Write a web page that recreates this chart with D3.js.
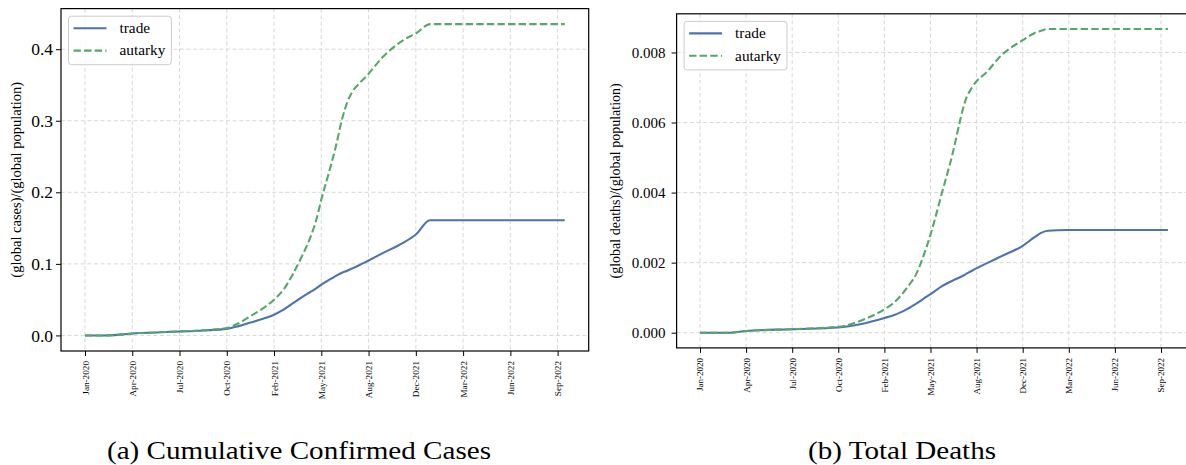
<!DOCTYPE html>
<html>
<head>
<meta charset="utf-8">
<script src="https://cdn.jsdelivr.net/npm/d3@7"></script>
<style>
  body { margin: 0; background: #fff; }
  svg { display: block; }
  text { font-family: "Liberation Serif", "Times New Roman", serif; fill: #000; }
</style>
</head>
<body>
<svg id="chart" width="1186" height="465"></svg>
<script>
// Days since the start of the simulation, with ticks every 100 days.
const tickDays = [0, 100, 200, 300, 400, 500, 600, 700, 800, 900, 1000];
const tickLabels = ["Jan-2020", "Apr-2020", "Jul-2020", "Oct-2020", "Feb-2021", "May-2021",
                    "Aug-2021", "Dec-2021", "Mar-2022", "Jun-2022", "Sep-2022"];
const seriesNames = ["trade", "autarky"];

// Cumulative confirmed cases per head of global population
const casesDays    = [0, 40, 60, 80, 100, 150, 200, 250, 300, 325, 350, 375, 400, 420, 440, 460, 475, 490, 500, 515, 530, 545, 555, 565, 580, 595, 630, 672, 700, 730, 800, 900, 1015];
const casesTrade   = [0, 0, 0.0005, 0.0015, 0.0028, 0.0042, 0.0055, 0.0070, 0.0092, 0.013, 0.018, 0.023, 0.029, 0.036, 0.045, 0.054, 0.060, 0.066, 0.071, 0.077, 0.083, 0.088, 0.0905, 0.0935, 0.098, 0.103, 0.115, 0.129, 0.141, 0.161, 0.161, 0.161, 0.161];
const casesAutarky = [0, 0, 0.0005, 0.0015, 0.0028, 0.0042, 0.0056, 0.0072, 0.0105, 0.017, 0.027, 0.037, 0.050, 0.064, 0.086, 0.112, 0.134, 0.163, 0.19, 0.225, 0.262, 0.305, 0.326, 0.340, 0.352, 0.362, 0.389, 0.412, 0.422, 0.435, 0.435, 0.435, 0.435];
const casesTicks   = [0, 0.1, 0.2, 0.3, 0.4];

// Total deaths per head of global population
const deathsDays    = [0, 40, 65, 100, 200, 300, 350, 400, 420, 435, 450, 470, 485, 500, 525, 550, 565, 575, 590, 625, 650, 700, 725, 740, 755, 795, 900, 1015];
const deathsTrade   = [0, 0, 0, 0.00005, 0.0001, 0.00015, 0.00025, 0.00042, 0.0005, 0.00058, 0.00068, 0.00084, 0.00097, 0.0011, 0.00133, 0.0015, 0.00159, 0.00166, 0.00177, 0.002, 0.00216, 0.00248, 0.00272, 0.00285, 0.00291, 0.00293, 0.00293, 0.00293];
const deathsAutarky = [0, 0, 0, 0.00005, 0.0001, 0.00017, 0.00035, 0.00067, 0.00085, 0.00105, 0.0013, 0.0017, 0.0022, 0.0028, 0.0040, 0.00522, 0.0061, 0.0066, 0.0070, 0.00748, 0.00787, 0.00835, 0.00855, 0.00862, 0.00867, 0.00867, 0.00867, 0.00867];
const deathsTicks   = [0, 0.002, 0.004, 0.006, 0.008];

const captions = ["(a) Cumulative Confirmed Cases", "(b) Total Deaths"];
const yTitles = ["(global cases)/(global population)", "(global deaths)/(global population)"];

const colors = { trade: "#4c72b0", autarky: "#55a868" };
const svg = d3.select("#chart");

function padded(values, frac) {
  const [lo, hi] = d3.extent(values);
  const p = (hi - lo) * frac;
  return [lo - p, hi + p];
}

function drawPanel(o) {
  const g = svg.append("g");
  const x = d3.scaleLinear().domain(padded(o.days, 0.05)).range([o.left, o.right]);
  const y = d3.scaleLinear().domain(padded(o.trade.concat(o.autarky), 0.05)).range([o.bottom, o.top]);

  // clip to the axes box
  const clipId = "clip" + o.id;
  g.append("clipPath").attr("id", clipId).append("rect")
    .attr("x", o.left).attr("y", o.top).attr("width", o.right - o.left).attr("height", o.bottom - o.top);

  // grid
  const grid = g.append("g").attr("clip-path", `url(#${clipId})`)
    .attr("stroke", "#d4d4d4").attr("stroke-width", 0.9).attr("stroke-dasharray", "4,2.6");
  grid.selectAll("line.v").data(tickDays).join("line")
    .attr("x1", d => x(d)).attr("x2", d => x(d)).attr("y1", o.top).attr("y2", o.bottom);
  grid.selectAll("line.h").data(o.yTicks).join("line")
    .attr("y1", d => y(d)).attr("y2", d => y(d)).attr("x1", o.left).attr("x2", o.right);

  // lines
  const rows = o.days.map((d, i) => ({ d, trade: o.trade[i], autarky: o.autarky[i] }));
  const lines = g.append("g").attr("clip-path", `url(#${clipId})`);
  seriesNames.forEach(name => {
    const line = d3.line().x(r => x(r.d)).y(r => y(r[name])).curve(d3.curveMonotoneX);
    lines.append("path").datum(rows)
      .attr("d", line)
      .attr("fill", "none")
      .attr("stroke", colors[name])
      .attr("stroke-width", 2.1)
      .attr("stroke-linejoin", "round")
      .attr("stroke-dasharray", name === "autarky" ? "7.4,3.2" : null);
  });

  // axes
  const xAxis = d3.axisBottom(x).tickValues(tickDays)
    .tickFormat((d, i) => tickLabels[i]).tickSize(5).tickPadding(5);
  const xg = g.append("g").attr("transform", `translate(0,${o.bottom})`).call(xAxis);
  xg.select(".domain").remove();
  xg.selectAll(".tick line").attr("stroke", "#000").attr("stroke-width", 1);
  xg.selectAll(".tick text")
    .attr("font-family", "Liberation Serif, serif")
    .attr("font-size", o.xFont)
    .attr("transform", "rotate(-90)")
    .attr("text-anchor", "end")
    .attr("x", -10).attr("y", 0).attr("dy", "0.33em");

  const yAxis = d3.axisLeft(y).tickValues(o.yTicks).tickFormat(d3.format(o.yFormat))
    .tickSize(5).tickPadding(o.yPad);
  const yg = g.append("g").attr("transform", `translate(${o.left},0)`).call(yAxis);
  yg.select(".domain").remove();
  yg.selectAll(".tick line").attr("stroke", "#000").attr("stroke-width", 1);
  yg.selectAll(".tick text")
    .attr("font-family", "Liberation Serif, serif")
    .attr("font-size", o.yFont);

  // spines
  g.append("rect")
    .attr("x", o.left).attr("y", o.top)
    .attr("width", o.right - o.left).attr("height", o.bottom - o.top)
    .attr("fill", "none").attr("stroke", "#000").attr("stroke-width", 1.2);

  // y title
  g.append("text")
    .attr("transform", `translate(${o.titleX},${(o.top + o.bottom) / 2}) rotate(-90)`)
    .attr("text-anchor", "middle")
    .attr("font-size", o.titleFont)
    .text(o.yTitle);

  // legend
  const lg = g.append("g").attr("transform", `translate(${o.left + 7.5},${o.top + 7.6})`);
  const box = lg.append("rect").attr("rx", 3).attr("ry", 3)
    .attr("fill", "#fff").attr("fill-opacity", 0.8)
    .attr("stroke", "#cccccc").attr("stroke-width", 1);
  let maxW = 0;
  seriesNames.forEach((name, i) => {
    const cy = 12 + i * 22.4;
    lg.append("line").attr("x1", 5).attr("x2", 38).attr("y1", cy).attr("y2", cy)
      .attr("stroke", colors[name]).attr("stroke-width", 2.1)
      .attr("stroke-dasharray", name === "autarky" ? "7.4,3.2" : null);
    const t = lg.append("text").attr("x", 51).attr("y", cy).attr("dy", "0.32em")
      .attr("font-size", 15.3).text(name);
    maxW = Math.max(maxW, t.node().getComputedTextLength());
  });
  box.attr("x", 0).attr("y", 0).attr("width", 51 + maxW + 6).attr("height", 48.5);

  // caption
  svg.append("text")
    .attr("x", o.captionX).attr("y", 459)
    .attr("text-anchor", "middle")
    .attr("font-size", 25)
    .attr("textLength", o.captionW).attr("lengthAdjust", "spacingAndGlyphs")
    .text(o.caption);
}

drawPanel({
  id: "a", left: 61, right: 588.7, top: 8.6, bottom: 351,
  days: casesDays, trade: casesTrade, autarky: casesAutarky,
  yTicks: casesTicks, yFormat: ".1f", yFont: 17.5, yPad: 3, xFont: 9.2,
  yTitle: yTitles[0], titleX: 21, titleFont: 14.5,
  caption: captions[0], captionX: 299, captionW: 384
});

drawPanel({
  id: "b", left: 676.6, right: 1191.3, top: 13.8, bottom: 347.9,
  days: deathsDays, trade: deathsTrade, autarky: deathsAutarky,
  yTicks: deathsTicks, yFormat: ".3f", yFont: 15, yPad: 6, xFont: 9,
  yTitle: yTitles[1], titleX: 620, titleFont: 14,
  caption: captions[1], captionX: 902, captionW: 188
});
</script>
</body>
</html>
